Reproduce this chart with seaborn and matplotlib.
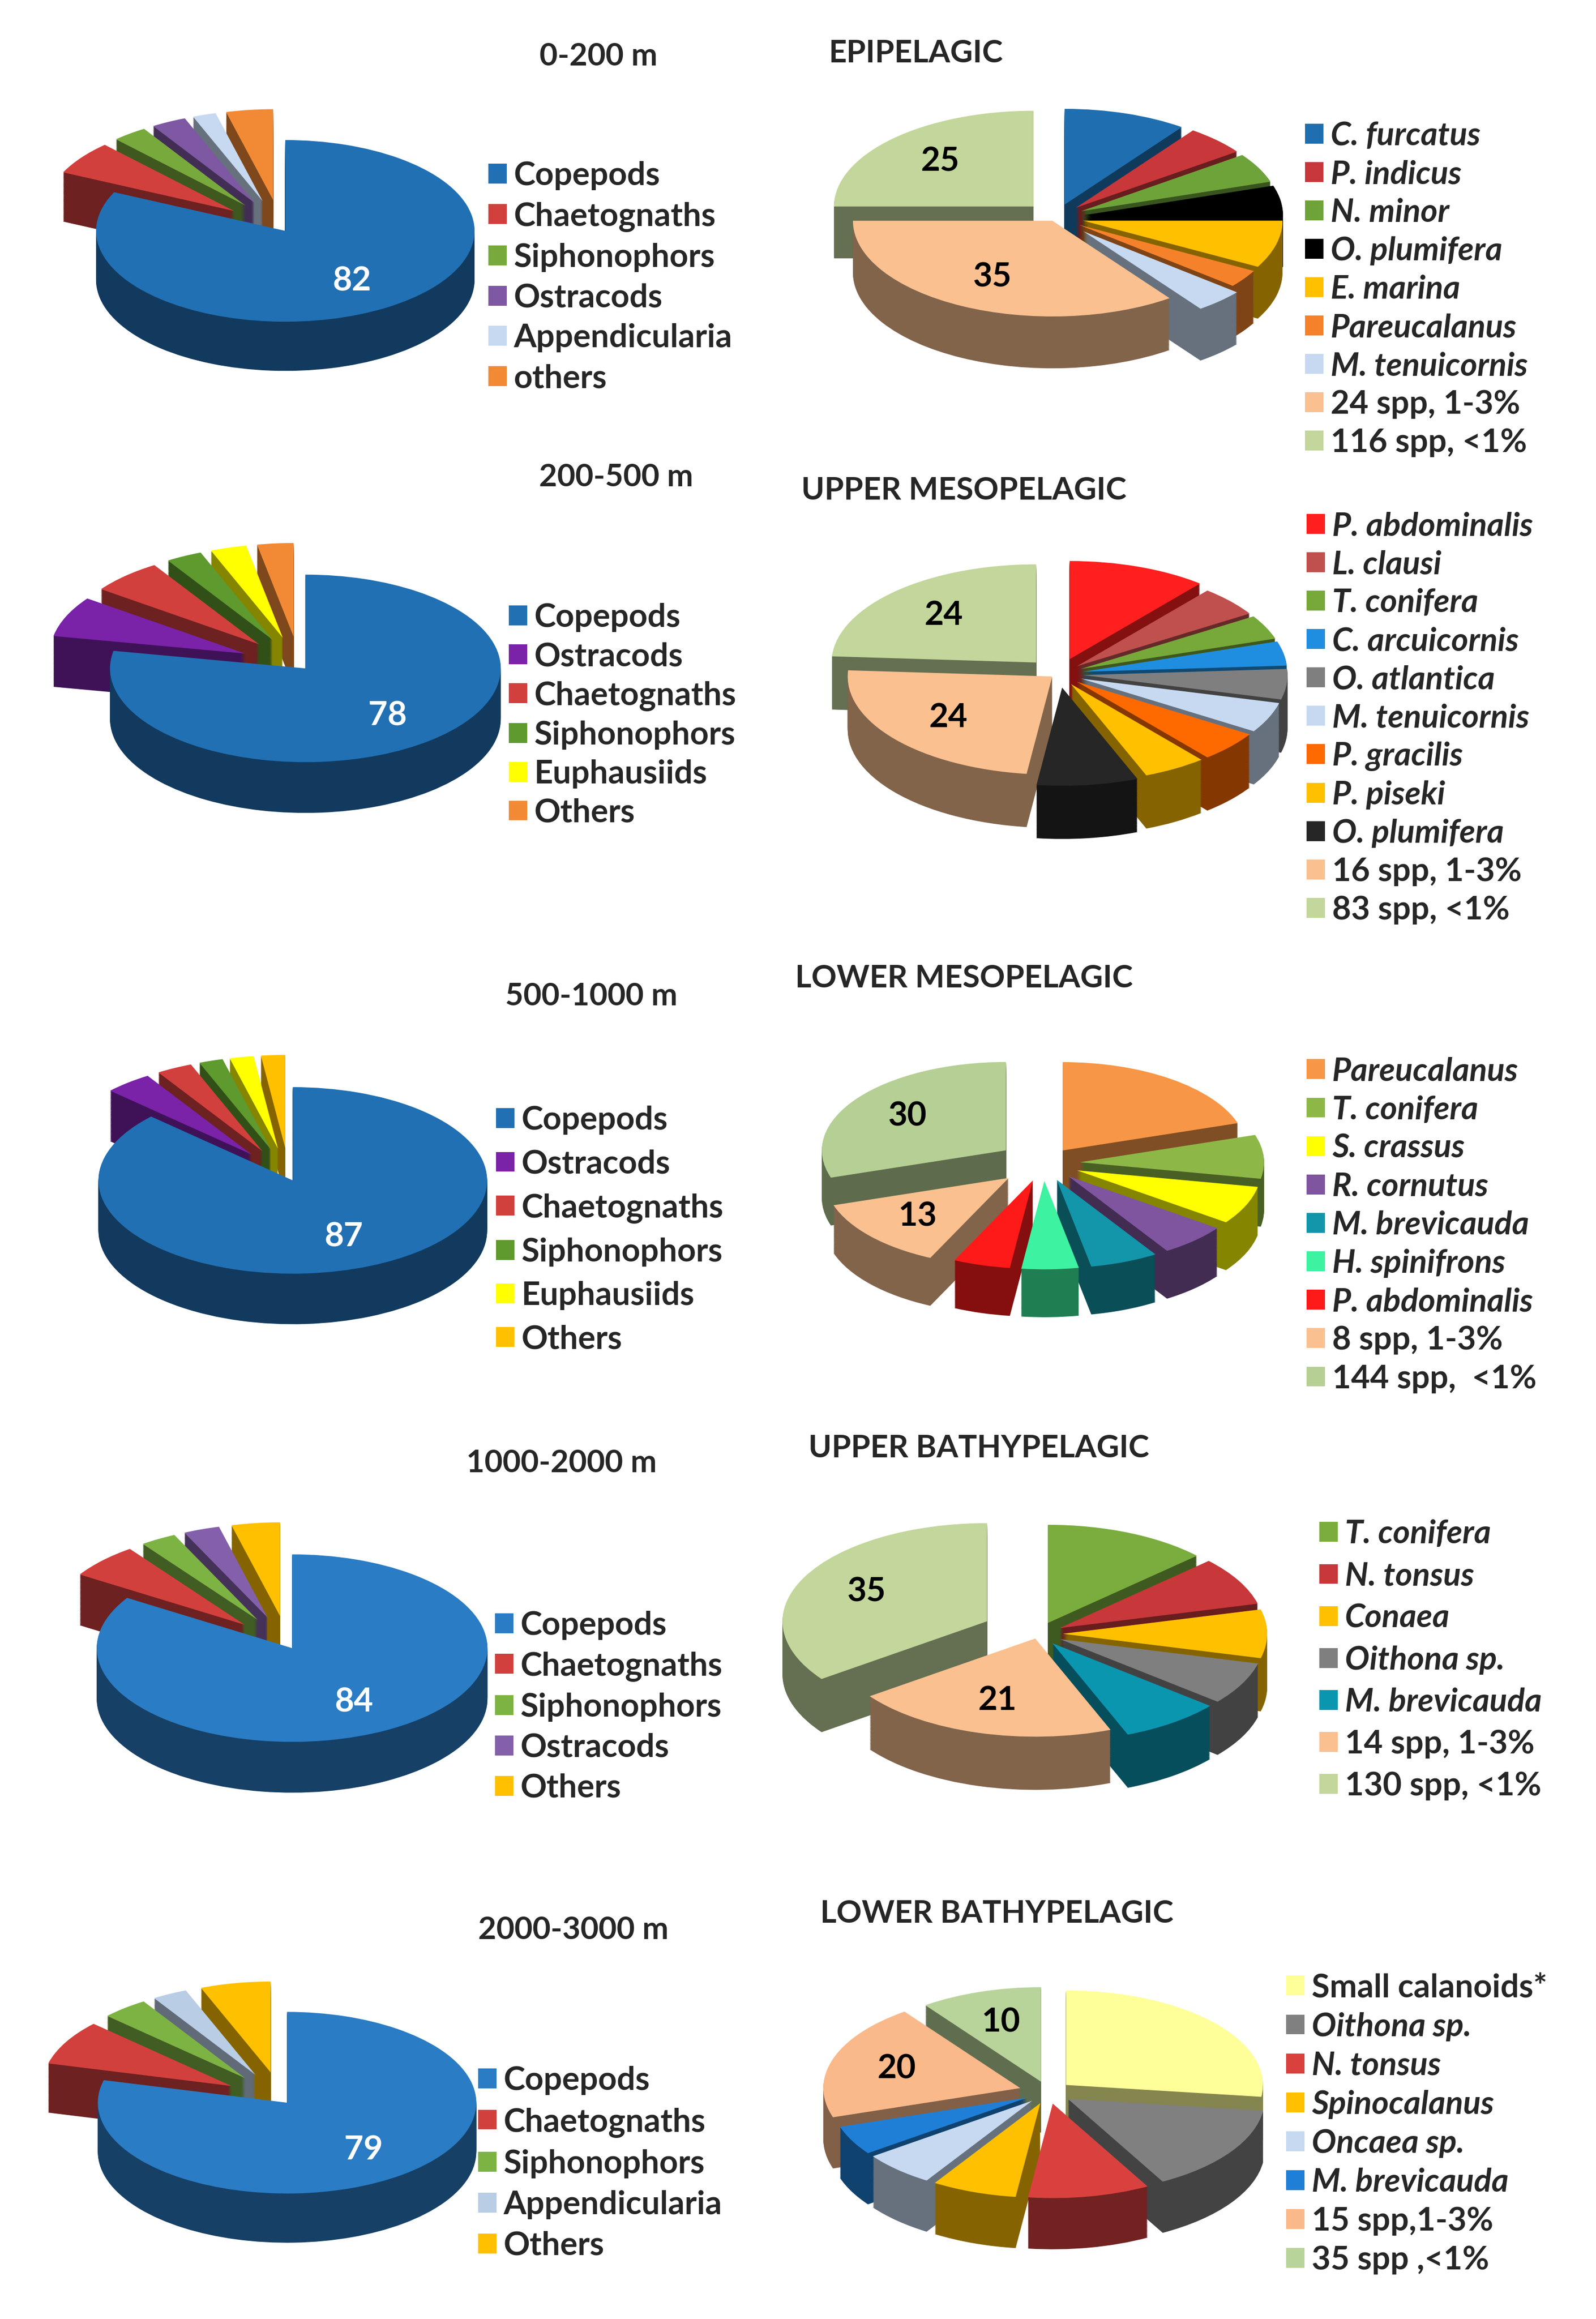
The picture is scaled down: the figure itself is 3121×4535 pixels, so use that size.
import numpy as np
import matplotlib
matplotlib.use("Agg")
import matplotlib.pyplot as plt
import matplotlib.colors as mcolors
import seaborn as sns

sns.set_theme(style="white")
plt.rcParams["font.family"] = ["Lato", "DejaVu Sans"]

W, H, DPI = 3121, 4535, 100

# ---------------- data ----------------
d1_names = ["Copepods", "Chaetognaths", "Siphonophors", "Ostracods", "Appendicularia", "others"]
d1_vals = [82, 6, 3, 3, 2, 4]
d1_cols = ["#2170B4", "#D2403D", "#78A93C", "#7E58A2", "#C6D9F1", "#F28A35"]

e1_names = ["C. furcatus", "P. indicus", "N. minor", "O. plumifera", "E. marina",
            "Pareucalanus", "M. tenuicornis", "24 spp, 1-3%", "116 spp, <1%"]
e1_vals = [10, 5, 5, 5, 8, 3, 4, 35, 25]
e1_cols = ["#1F6FB0", "#C8373A", "#6EA33A", "#000000", "#FFC000", "#F5822A",
           "#C6D9F1", "#FAC090", "#C3D69B"]

d2_names = ["Copepods", "Ostracods", "Chaetognaths", "Siphonophors", "Euphausiids", "Others"]
d2_vals = [78, 7, 6, 3, 3, 3]
d2_cols = ["#2170B4", "#7A22A8", "#D2403D", "#5E9A2E", "#FFFF00", "#F28A35"]

e2_names = ["P. abdominalis", "L. clausi", "T. conifera", "C. arcuicornis", "O. atlantica",
            "M. tenuicornis", "P. gracilis", "P. piseki", "O. plumifera",
            "16 spp, 1-3%", "83 spp, <1%"]
e2_vals = [11, 5, 4, 4, 5, 5, 5, 5, 8, 24, 24]
e2_cols = ["#FF1F1F", "#C0504D", "#77A83A", "#1F8EE0", "#7F7F7F", "#C6D9F1",
           "#FF6A00", "#FFC000", "#262626", "#FAC090", "#C3D69B"]

d3_names = ["Copepods", "Ostracods", "Chaetognaths", "Siphonophors", "Euphausiids", "Others"]
d3_vals = [87, 4, 3, 2, 2, 2]
d3_cols = ["#2170B4", "#7A22A8", "#D2403D", "#5E9A2E", "#FFFF00", "#FFC000"]

e3_names = ["Pareucalanus", "T. conifera", "S. crassus", "R. cornutus", "M. brevicauda",
            "H. spinifrons", "P. abdominalis", "8 spp, 1-3%", "144 spp,  <1%"]
e3_vals = [20, 8, 7, 6, 6, 5, 5, 13, 30]
e3_cols = ["#F79646", "#8DB848", "#FFFF00", "#7E559E", "#1396AA", "#3DF2A0",
           "#FF1A1A", "#FAC090", "#B5CF94"]

d4_names = ["Copepods", "Chaetognaths", "Siphonophors", "Ostracods", "Others"]
d4_vals = [84, 6, 3, 3, 4]
d4_cols = ["#2A7CC4", "#D2403D", "#7DB343", "#8460AA", "#FFC000"]

e4_names = ["T. conifera", "N. tonsus", "Conaea", "Oithona sp.", "M. brevicauda",
            "14 spp, 1-3%", "130 spp, <1%"]
e4_vals = [13, 8, 8, 7, 8, 21, 35]
e4_cols = ["#7AAD3D", "#C8373A", "#FFC000", "#7F7F7F", "#0B96B0", "#FAC090", "#C3D69B"]

d5_names = ["Copepods", "Chaetognaths", "Siphonophors", "Appendicularia", "Others"]
d5_vals = [79, 8, 4, 3, 6]
d5_cols = ["#2A7CC4", "#D2403D", "#7DB343", "#B9CDE5", "#FFC000"]

e5_names = ["Small calanoids*", "Oithona sp.", "N. tonsus", "Spinocalanus", "Oncaea sp.",
            "M. brevicauda", "15 spp,1-3%", "35 spp ,<1%"]
e5_vals = [27, 15, 10, 7, 6, 5, 20, 10]
e5_cols = ["#FFFF99", "#808080", "#D9413F", "#FFC000", "#C6D9F1", "#1F7FD6",
           "#FAB98A", "#B9D49A"]

depth_titles = ["0-200 m", "200-500 m", "500-1000 m", "1000-2000 m", "2000-3000 m"]
zone_titles = ["EPIPELAGIC", "UPPER MESOPELAGIC", "LOWER MESOPELAGIC",
               "UPPER BATHYPELAGIC", "LOWER BATHYPELAGIC"]

# ---------------- layout / style ----------------
fig = plt.figure(figsize=(W / DPI, H / DPI), dpi=DPI)
fig.patch.set_facecolor("white")

RATIO = 0.48      # vertical squash of the pie top
DEPTH = 0.26      # visual thickness as fraction of radius
FS_LEG = 46
FS_TIT = 44
FS_NUM = 47


def shade(c, f=0.5):
    rgb = np.array(mcolors.to_rgb(c)) * f
    return tuple(np.clip(rgb, 0, 1))


def draw_pie(cx, cy, R, vals, cols, explode, show, txtcolor, ldist):
    D = DEPTH / RATIO
    xr, ytop, ybot = 1.55, 1.55, -1.55 - D
    w = 2 * xr * R
    h = (ytop - ybot) * RATIO * R
    left = cx - xr * R
    top = cy - ytop * RATIO * R
    ax = fig.add_axes([left / W, 1 - (top + h) / H, w / W, h / H])
    ax.patch.set_alpha(0)
    sides = [shade(c, 0.52) for c in cols]
    n = 45
    for k in range(n, 0, -1):
        ax.pie(vals, colors=sides, explode=explode, startangle=90, counterclock=False,
               center=(0, -D * k / n), wedgeprops=dict(linewidth=0))
    labels = [str(v) if i in show else "" for i, v in enumerate(vals)]
    wedges, texts = ax.pie(vals, colors=cols, explode=explode, startangle=90,
                           counterclock=False, labels=labels, labeldistance=ldist,
                           wedgeprops=dict(linewidth=0),
                           textprops=dict(fontsize=FS_NUM, fontweight="bold", color=txtcolor))
    for t in texts:
        t.set_ha("center")
        t.set_va("center")
    ax.set_aspect("auto")
    ax.set_xlim(-xr, xr)
    ax.set_ylim(ybot, ytop)
    ax.axis("off")
    return wedges


def legend(handles, names, x, y_first, pitch, italic_idx):
    F = FS_LEG * DPI / 72.0
    ls = pitch / F - 0.89
    leg = fig.legend(handles, names, loc="upper left",
                     bbox_to_anchor=(x / W, 1 - (y_first - 0.40 * F) / H),
                     frameon=False, fontsize=FS_LEG, handlelength=0.56, handleheight=0.56,
                     handletextpad=0.22, labelspacing=ls, borderpad=0, borderaxespad=0,
                     prop=dict(weight="bold", size=FS_LEG))
    for i, t in enumerate(leg.get_texts()):
        if i in italic_idx:
            t.set_style("italic")
    return leg


panels = [
    dict(cx=548, cy=444, R=370, names=d1_names, vals=d1_vals, cols=d1_cols,
         ex=[0.05, 0.3, 0.3, 0.3, 0.3, 0.3], lx=955, ly=341, lp=78.6, it=[],
         show=[0], tc="white", ld=0.66),
    dict(cx=2065, cy=425, R=390, names=e1_names, vals=e1_vals, cols=e1_cols,
         ex=[0.14, 0.14, 0.14, 0.14, 0.14, 0.14, 0.2, 0.04, 0.16], lx=2552, ly=263, lp=74.8,
         it=range(7), show=[7, 8], tc="black", ld=0.66),
    dict(cx=585, cy=1300, R=382, names=d2_names, vals=d2_vals, cols=d2_cols,
         ex=[0.05, 0.3, 0.3, 0.3, 0.3, 0.3], lx=995, ly=1205, lp=75.7, it=[],
         show=[0], tc="white", ld=0.66),
    dict(cx=2070, cy=1318, R=400, names=e2_names, vals=e2_vals, cols=e2_cols,
         ex=[0.16, 0.12, 0.12, 0.12, 0.12, 0.12, 0.12, 0.12, 0.14, 0.04, 0.16],
         lx=2555, ly=1026, lp=74.8, it=range(9), show=[9, 10], tc="black", ld=0.66),
    dict(cx=565, cy=2300, R=380, names=d3_names, vals=d3_vals, cols=d3_cols,
         ex=[0.05, 0.3, 0.3, 0.3, 0.3, 0.3], lx=970, ly=2188, lp=85, it=[],
         show=[0], tc="white", ld=0.66),
    dict(cx=2040, cy=2275, R=360, names=e3_names, vals=e3_vals, cols=e3_cols,
         ex=[0.18, 0.2, 0.2, 0.2, 0.2, 0.2, 0.2, 0.25, 0.25],
         lx=2555, ly=2092, lp=75, it=range(7), show=[7, 8], tc="black", ld=0.66),
    dict(cx=562, cy=3215, R=382, names=d4_names, vals=d4_vals, cols=d4_cols,
         ex=[0.05, 0.3, 0.3, 0.3, 0.3], lx=968, ly=3176, lp=78.7, it=[],
         show=[0], tc="white", ld=0.66),
    dict(cx=2030, cy=3195, R=400, names=e4_names, vals=e4_vals, cols=e4_cols,
         ex=[0.12, 0.12, 0.12, 0.12, 0.12, 0.05, 0.28],
         lx=2580, ly=2997, lp=82, it=range(5), show=[5, 6], tc="black", ld=0.66),
    dict(cx=550, cy=4105, R=370, names=d5_names, vals=d5_vals, cols=d5_cols,
         ex=[0.05, 0.3, 0.3, 0.3, 0.3], lx=935, ly=4066, lp=80, it=[],
         show=[0], tc="white", ld=0.66),
    dict(cx=2050, cy=4092, R=385, names=e5_names, vals=e5_vals, cols=e5_cols,
         ex=[0.12, 0.12, 0.12, 0.12, 0.12, 0.12, 0.15, 0.12],
         lx=2515, ly=3884, lp=76, it=range(1, 6), show=[6, 7], tc="black", ld=0.66),
]

for p in panels:
    wedges = draw_pie(p["cx"], p["cy"], p["R"], p["vals"], p["cols"], p["ex"],
                      p["show"], p["tc"], p["ld"])
    legend(wedges, p["names"], p["lx"], p["ly"], p["lp"], list(p["it"]))

depth_pos = [(1170, 110), (1205, 933), (1156, 1948), (1098, 2861), (1121, 3774)]
zone_pos = [(1620, 104), (1567, 959), (1555, 1913), (1581, 2832), (1604, 3742)]
for t, (x, y) in zip(depth_titles, depth_pos):
    fig.text(x / W, 1 - y / H, t, ha="center", va="center", fontsize=FS_TIT, fontweight="bold")
for t, (x, y) in zip(zone_titles, zone_pos):
    fig.text(x / W, 1 - y / H, t, ha="left", va="center", fontsize=FS_TIT, fontweight="bold")

fig.savefig("out.png", dpi=DPI, facecolor="white")
